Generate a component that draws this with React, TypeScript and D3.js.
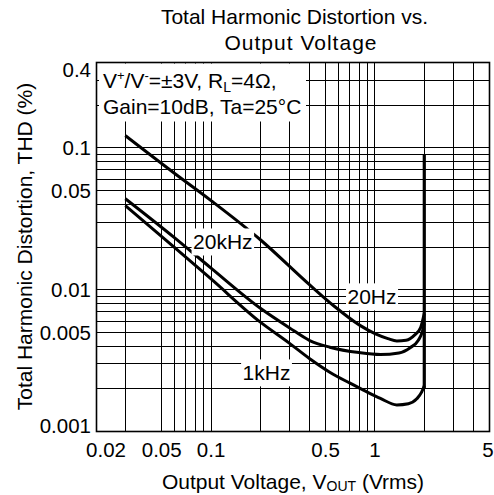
import * as d3 from "d3";
import { useEffect, useRef } from "react";

// axis ticks and grid
const xTickValues = [0.02, 0.05, 0.1, 0.5, 1, 5];
const yTickValues = [0.4, 0.1, 0.05, 0.01, 0.005, 0.001];
const xGridValues = [0.03, 0.05, 0.06, 0.07, 0.08, 0.09, 0.1, 0.2, 0.3, 0.4, 0.5, 0.6, 0.7, 0.8, 0.9, 1, 2, 3, 4];
const yGridValues = [
  0.002, 0.003, 0.004, 0.005, 0.006, 0.007, 0.008, 0.009, 0.01,
  0.02, 0.03, 0.04, 0.05, 0.06, 0.07, 0.08, 0.09, 0.1, 0.2, 0.3,
];

// THD (%) vs Vout (Vrms)
const vout20kHz = [0.03, 0.06, 0.1, 0.2, 0.4, 0.56, 0.81, 1.0, 1.2, 1.36, 1.55, 1.75, 1.9, 2.0];
const thd20kHz = [0.122, 0.066, 0.0425, 0.0225, 0.0108, 0.0077, 0.0056, 0.0049, 0.00452, 0.00435, 0.0044, 0.0048, 0.0054, 0.0068];

const vout20Hz = [0.03, 0.06, 0.1, 0.2, 0.3, 0.4, 0.53, 0.8, 1.08, 1.4, 1.64, 1.84, 1.95, 2.0];
const thd20Hz = [0.0438, 0.0232, 0.0142, 0.0074, 0.0054, 0.00438, 0.00393, 0.0036, 0.00349, 0.00358, 0.0039, 0.0044, 0.0051, 0.0058];

const vout1kHz = [0.03, 0.06, 0.1, 0.2, 0.3, 0.4, 0.53, 0.7, 0.85, 1.08, 1.36, 1.6, 1.8, 1.93, 2.0];
const thd1kHz = [0.0392, 0.0198, 0.0119, 0.0059, 0.0042, 0.00326, 0.00262, 0.0022, 0.00196, 0.00171, 0.00154, 0.00157, 0.0017, 0.0019, 0.0021];

// output clipping: all curves shoot up at the same voltage
const clipVout = 2.0;
const clipThd = [0.002, 0.09];

const seriesLabels = ["20kHz", "20Hz", "1kHz"];
const labelVout = [0.118, 0.96, 0.218];
const labelThd = [0.0217, 0.0089, 0.00259];

export default function App() {
  const ref = useRef<SVGSVGElement>(null);

  useEffect(() => {
    const width = 494;
    const height = 495;
    const left = 96.5, right = 489.5, top = 62.5, bottom = 431.5;
    const font = "'Liberation Sans', Arial, Helvetica, sans-serif";

    const svg = d3.select(ref.current);
    svg.selectAll("*").remove();
    svg.attr("width", width).attr("height", height).style("font-family", font);

    const x = d3.scaleLog().domain([0.02, 5]).range([left, right]);
    const y = d3.scaleLog().domain([0.001, 0.4]).range([bottom, top]);

    svg.append("rect").attr("width", width).attr("height", height).attr("fill", "#fff");

    /* ---------- grid ---------- */
    const grid = svg.append("g").attr("stroke", "#000").attr("stroke-width", 1).attr("shape-rendering", "crispEdges");
    grid.selectAll("line.v")
      .data(xGridValues)
      .enter()
      .append("line")
      .attr("x1", d => x(d)).attr("x2", d => x(d))
      .attr("y1", top).attr("y2", bottom);
    grid.selectAll("line.h")
      .data(yGridValues)
      .enter()
      .append("line")
      .attr("y1", d => y(d)).attr("y2", d => y(d))
      .attr("x1", left).attr("x2", right);

    // conditions box (white behind text)
    svg.append("rect")
      .attr("x", 99).attr("y", top + 1)
      .attr("width", 207).attr("height", 58)
      .attr("fill", "#fff");

    const cond1 = svg.append("text").attr("x", 103).attr("y", 88).attr("font-size", 21);
    cond1.append("tspan").text("V");
    cond1.append("tspan").attr("dy", -8).attr("font-size", 13).text("+");
    cond1.append("tspan").attr("dy", 8).text("/V");
    cond1.append("tspan").attr("dy", -8).attr("font-size", 13).text("-");
    cond1.append("tspan").attr("dy", 8).text("=±3V, R");
    cond1.append("tspan").attr("dy", 4).attr("font-size", 14).text("L");
    cond1.append("tspan").attr("dy", -4).text("=4Ω,");
    svg.append("text").attr("x", 103).attr("y", 114).attr("font-size", 21).text("Gain=10dB, Ta=25°C");

    /* ---------- series labels with white boxes ---------- */
    const labelG = svg.append("g");
    seriesLabels.forEach((name, i) => {
      const t = labelG.append("text")
        .attr("x", x(labelVout[i]))
        .attr("y", y(labelThd[i]))
        .attr("text-anchor", "middle")
        .attr("dominant-baseline", "central")
        .attr("font-size", 21)
        .text(name);
      const b = (t.node() as SVGTextElement).getBBox();
      labelG.insert("rect", "text")
        .attr("x", b.x - 1.5).attr("y", b.y - 2)
        .attr("width", b.width + 3).attr("height", b.height + 4)
        .attr("fill", "#fff");
    });

    /* ---------- curves ---------- */
    const line = d3.line<[number, number]>()
      .x(d => x(d[0]))
      .y(d => y(d[1]))
      .curve(d3.curveMonotoneX);

    const series: [number, number][][] = [
      vout20kHz.map((v, i) => [v, thd20kHz[i]]),
      vout20Hz.map((v, i) => [v, thd20Hz[i]]),
      vout1kHz.map((v, i) => [v, thd1kHz[i]]),
    ];

    svg.selectAll("path.curve")
      .data(series)
      .enter()
      .append("path")
      .attr("class", "curve")
      .attr("d", d => line(d))
      .attr("fill", "none")
      .attr("stroke", "#000")
      .attr("stroke-width", 3);

    svg.append("line")
      .attr("x1", x(clipVout)).attr("x2", x(clipVout))
      .attr("y1", y(clipThd[0])).attr("y2", y(clipThd[1]))
      .attr("stroke", "#000")
      .attr("stroke-width", 3.2);

    labelG.raise();
    labelG.selectAll("rect").lower();

    /* ---------- frame ---------- */
    svg.append("rect")
      .attr("x", left).attr("y", top)
      .attr("width", right - left).attr("height", bottom - top)
      .attr("fill", "none")
      .attr("stroke", "#000")
      .attr("stroke-width", 1.6);

    /* ---------- tick labels ---------- */
    svg.selectAll("text.ytick")
      .data(yTickValues)
      .enter()
      .append("text")
      .attr("class", "ytick")
      .attr("x", 91)
      .attr("y", d => Math.max(69, Math.min(425, y(d))))
      .attr("text-anchor", "end")
      .attr("dominant-baseline", "central")
      .attr("font-size", 20.5)
      .text(d => String(d));

    svg.selectAll("text.xtick")
      .data(xTickValues)
      .enter()
      .append("text")
      .attr("class", "xtick")
      .attr("x", d => Math.max(106, Math.min(488, x(d))))
      .attr("y", 457)
      .attr("text-anchor", "middle")
      .attr("font-size", 20.5)
      .text(d => String(d));

    /* ---------- titles ---------- */
    svg.append("text")
      .attr("x", 294.5).attr("y", 24)
      .attr("text-anchor", "middle").attr("font-size", 21)
      .text("Total Harmonic Distortion vs.");
    svg.append("text")
      .attr("x", 300.5).attr("y", 49.5)
      .attr("text-anchor", "middle").attr("font-size", 21)
      .attr("textLength", 152).attr("lengthAdjust", "spacing")
      .text("Output Voltage");

    const xt = svg.append("text")
      .attr("x", 293).attr("y", 489)
      .attr("text-anchor", "middle").attr("font-size", 21);
    xt.append("tspan").text("Output Voltage, V");
    xt.append("tspan").attr("dy", 2).attr("font-size", 14).text("OUT");
    xt.append("tspan").attr("dy", -2).text(" (Vrms)");

    svg.append("text")
      .attr("transform", "translate(31.5, 246.5) rotate(-90)")
      .attr("text-anchor", "middle").attr("font-size", 21)
      .text("Total Harmonic Distortion, THD (%)");
  }, []);

  return <svg ref={ref} style={{ position: "absolute", left: 0, top: 0 }} />;
}
